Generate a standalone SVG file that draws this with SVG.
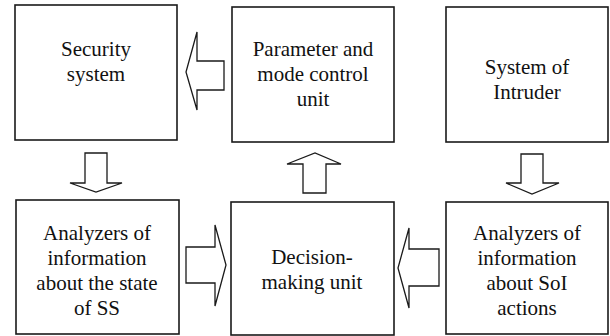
<svg xmlns="http://www.w3.org/2000/svg" width="610" height="336" viewBox="0 0 610 336">
<style>
.box{fill:#fff;stroke:#1a1a1a;stroke-width:1.6}
.arr{fill:#fff;stroke:#1a1a1a;stroke-width:1.3;stroke-linejoin:miter}
.t{font-family:'Liberation Serif','Times New Roman',Times,serif;font-size:21px;fill:#111;text-anchor:middle}
</style>
<rect width="610" height="336" fill="#fff"/>
<g id="security-system">
<rect class="box" x="15" y="5" width="162" height="135"/>
<text class="t" x="96" y="56">Security</text>
<text class="t" x="96" y="81">system</text>
</g>
<g id="parameter-unit">
<rect class="box" x="232" y="7" width="162" height="135"/>
<text class="t" x="313" y="56">Parameter and</text>
<text class="t" x="313" y="81">mode control</text>
<text class="t" x="313" y="106">unit</text>
</g>
<g id="system-of-intruder">
<rect class="box" x="446" y="7" width="162" height="135"/>
<text class="t" x="527" y="74">System of</text>
<text class="t" x="527" y="99">Intruder</text>
</g>
<g id="analyzers-ss">
<rect class="box" x="16" y="200" width="163" height="134"/>
<text class="t" x="97" y="240">Analyzers of</text>
<text class="t" x="97" y="265">information</text>
<text class="t" x="97" y="290">about the state</text>
<text class="t" x="97" y="315">of SS</text>
</g>
<g id="decision-unit">
<rect class="box" x="231" y="202" width="163" height="133"/>
<text class="t" x="312" y="264">Decision-</text>
<text class="t" x="312" y="289">making unit</text>
</g>
<g id="analyzers-soi">
<rect class="box" x="446" y="202" width="162" height="132"/>
<text class="t" x="527" y="240">Analyzers of</text>
<text class="t" x="527" y="265">information</text>
<text class="t" x="527" y="290">about SoI</text>
<text class="t" x="527" y="315">actions</text>
</g>
<g id="connectors">
<polygon class="arr" points="224,61 197,61 197,32 186,72 197,110 197,90 224,90"/>
<polygon class="arr" points="85,153 107,153 107,183 122,183 96,192 70,183 85,183"/>
<polygon class="arr" points="303,193 326,193 326,164 341,164 315,153 287,164 303,164"/>
<polygon class="arr" points="521,154 543,154 543,183 559,183 532,194 506,183 521,183"/>
<polygon class="arr" points="186,247 215,247 215,225 226,265 215,306 215,283 186,283"/>
<polygon class="arr" points="439,249 409,249 409,228 398,268 409,308 409,286 439,286"/>
</g>
</svg>
